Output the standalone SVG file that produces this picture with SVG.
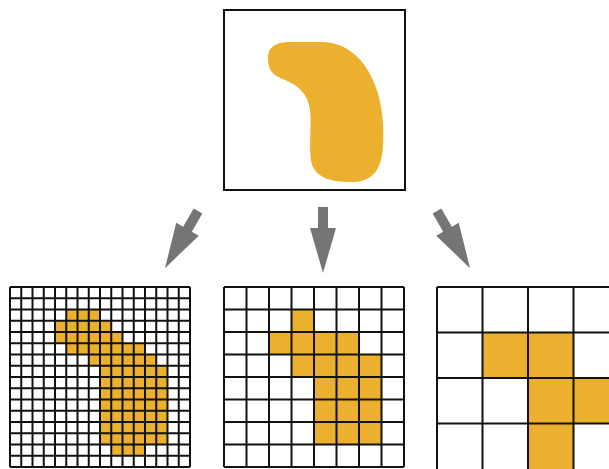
<svg xmlns="http://www.w3.org/2000/svg" xmlns:xlink="http://www.w3.org/1999/xlink" width="609" height="469" viewBox="0 0 609 469">
  <style>
    .fill { fill: #EBB02D; }
    .frame { fill: #ffffff; stroke: #111111; stroke-width: 2; }
    .grid { fill: none; stroke: #111111; stroke-width: 2; }
    .arrow { fill: #757575; }
  </style>
  <defs>
    <polygon id="arr" points="-5,0 5,0 5,21 13,21 0,66 -13,21 -5,21"/>
  </defs>
  <rect width="609" height="469" fill="#ffffff"/>

  <g id="source">
    <rect class="frame" x="224" y="10" width="181" height="180"/>
    <path class="fill" d="M 268,58 C 268,46 277,42 290,42 L 322,42 C 345,42 365,58 375,85 C 383,105 384,128 383,145 C 382,170 372,182 352,182 C 330,182 318,178 312,165 C 308,150 312,125 310,110 C 308,95 300,86 285,80 C 272,75 268,70 268,58 Z"/>
  </g>

  <g id="connectors">
    <use href="#arr" xlink:href="#arr" class="arrow" transform="translate(198,211) rotate(30)"/>
    <use href="#arr" xlink:href="#arr" class="arrow" transform="translate(323,207)"/>
    <use href="#arr" xlink:href="#arr" class="arrow" transform="translate(437,211) rotate(-30)"/>
  </g>

  <g id="grid16">
    <rect x="10" y="287" width="180" height="180" fill="#ffffff"/>
    <rect class="fill" x="66.25" y="309.5" width="33.75" height="11.25"/>
    <rect class="fill" x="55" y="320.75" width="56.25" height="11.25"/>
    <rect class="fill" x="55" y="332" width="67.5" height="11.25"/>
    <rect class="fill" x="66.25" y="343.25" width="78.75" height="11.25"/>
    <rect class="fill" x="88.75" y="354.5" width="67.5" height="11.25"/>
    <rect class="fill" x="100" y="365.75" width="67.5" height="78.75"/>
    <rect class="fill" x="111.25" y="444.5" width="33.75" height="11.25"/>
    <path class="grid" d="M10,287V467 M21.25,287V467 M32.5,287V467 M43.75,287V467 M55,287V467 M66.25,287V467 M77.5,287V467 M88.75,287V467 M100,287V467 M111.25,287V467 M122.5,287V467 M133.75,287V467 M145,287V467 M156.25,287V467 M167.5,287V467 M178.75,287V467 M190,287V467 M10,287H190 M10,298.25H190 M10,309.5H190 M10,320.75H190 M10,332H190 M10,343.25H190 M10,354.5H190 M10,365.75H190 M10,377H190 M10,388.25H190 M10,399.5H190 M10,410.75H190 M10,422H190 M10,433.25H190 M10,444.5H190 M10,455.75H190 M10,467H190"/>
  </g>

  <g id="grid8">
    <rect x="224" y="287" width="180" height="180" fill="#ffffff"/>
    <rect class="fill" x="291.5" y="309.5" width="22.5" height="22.5"/>
    <rect class="fill" x="269" y="332" width="90" height="22.5"/>
    <rect class="fill" x="291.5" y="354.5" width="90" height="22.5"/>
    <rect class="fill" x="314" y="377" width="67.5" height="67.5"/>
    <path class="grid" d="M224,287V467 M246.5,287V467 M269,287V467 M291.5,287V467 M314,287V467 M336.5,287V467 M359,287V467 M381.5,287V467 M404,287V467 M224,287H404 M224,309.5H404 M224,332H404 M224,354.5H404 M224,377H404 M224,399.5H404 M224,422H404 M224,444.5H404 M224,467H404"/>
  </g>

  <g id="grid4">
    <rect x="437" y="287" width="182" height="182" fill="#ffffff"/>
    <rect class="fill" x="482.5" y="332.5" width="91" height="45.5"/>
    <rect class="fill" x="528" y="378" width="91" height="45.5"/>
    <rect class="fill" x="528" y="423.5" width="45.5" height="45.5"/>
    <path class="grid" d="M437,287V469 M482.5,287V469 M528,287V469 M573.5,287V469 M437,287H619 M437,332.5H619 M437,378H619 M437,423.5H619"/>
  </g>
</svg>
